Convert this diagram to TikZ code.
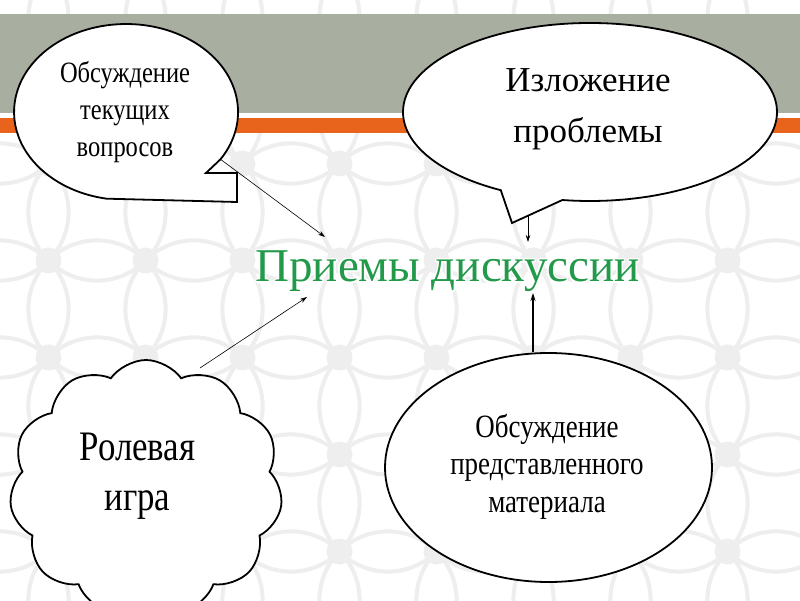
\documentclass[tikz,border=0pt]{standalone}
\usepackage{fontspec}
\setmainfont{Liberation Serif}
\newfontfamily\narrowserif[FakeStretch=0.83]{Liberation Serif}
\usepackage{contour}
\contourlength{1.4pt}
\contournumber{16}
\usetikzlibrary{shapes.geometric,shapes.callouts,shapes.symbols,arrows.meta,calc}
\definecolor{bandgray}{RGB}{168,174,160}
\definecolor{bandorange}{RGB}{232,100,28}
\definecolor{titlegreen}{RGB}{34,154,74}
\definecolor{patgray}{RGB}{238,238,238}
\begin{document}
\begin{tikzpicture}[x=1pt,y=1pt,
  shapeline/.style={draw=black, line width=1.8pt, fill=white},
  thinarrow/.style={-{Stealth[length=7pt,width=4.5pt]}, line width=0.6pt, draw=black},
  medarrow/.style={-{Stealth[length=8pt,width=5pt]}, line width=1.1pt, draw=black},
  txt/.style={align=center, inner sep=0pt, anchor=base, text=black}]
\useasboundingbox (0,0) rectangle (800,600);
\begin{scope}
\clip (0,0) rectangle (800,600);
\fill[white] (0,0) rectangle (800,600);
% background pattern
\foreach \i in {0,...,9} {
  \foreach \j in {0,...,7} {
    \draw[patgray, line width=4pt] (\i*97, \j*97) circle (68.6);
    \fill[patgray] (\i*97+48.5, \j*97+48.5) circle (13);
  }
}
% bands
\fill[bandgray] (0,487) rectangle (800,586);
\fill[white] (0,482) rectangle (800,487);
\fill[bandorange] (0,467) rectangle (800,482);

% bubble 1 (callout with notched tail)
\node[ellipse, minimum width=224, minimum height=176, inner sep=0pt] (b1) at (126,488) {};
\coordinate (b1tail) at (220.5,440.7);
\draw[shapeline] (b1tail) arc[start angle=-32.5, end angle=260, x radius=112, y radius=88]
  -- (237,398) -- (237,427) -- (206,427) -- cycle;
\node[txt, font=\narrowserif\fontsize{29.5}{37}\selectfont] (t1) at (125,443) {Обсуждение\\текущих\\вопросов};

% bubble 2
\node[ellipse callout, shapeline, minimum width=374, minimum height=178, inner sep=0pt,
  callout absolute pointer={(512,377)}, callout pointer arc=20] (b2) at (590,488) {};
\node[txt, font=\fontsize{35}{51}\selectfont] (t2) at (588,457) {Изложение\\проблемы};

% ellipse 3
\node[ellipse, shapeline, minimum width=327, minimum height=229, inner sep=0pt] (b3) at (548.5,132.5) {};
\node[txt, font=\narrowserif\fontsize{32.5}{37.5}\selectfont] (t3) at (547,88) {Обсуждение\\представленного\\материала};

% cloud
\node[cloud, shapeline, cloud puffs=11, cloud puff arc=110, aspect=1.07,
  minimum width=273, minimum height=256, inner sep=0pt] (b4) at (146,112) {};
\node[txt, font=\narrowserif\fontsize{42}{50}\selectfont] (t4) at (137.5,90) {Ролевая\\игра};

% title with white halo
\node[font=\fontsize{47}{47}\selectfont, text=titlegreen, anchor=base, inner sep=0pt]
  (title) at (447.5,318) {\contour{white}{Приемы дискуссии}};

% connectors
\coordinate (e1) at (325,363);
\draw[thinarrow] (b1tail) -- (e1);
\coordinate (b2tail) at (528,384);
\coordinate (e2) at (528,358);
\draw[thinarrow] (b2tail) -- (e2);
\coordinate (e3) at (533,307);
\draw[medarrow] (b3.north -| e3) -- (e3);
\coordinate (b4tail) at (200,232);
\coordinate (e4) at (307,303);
\draw[thinarrow] (b4tail) -- (e4);
\end{scope}
\end{tikzpicture}
\end{document}
